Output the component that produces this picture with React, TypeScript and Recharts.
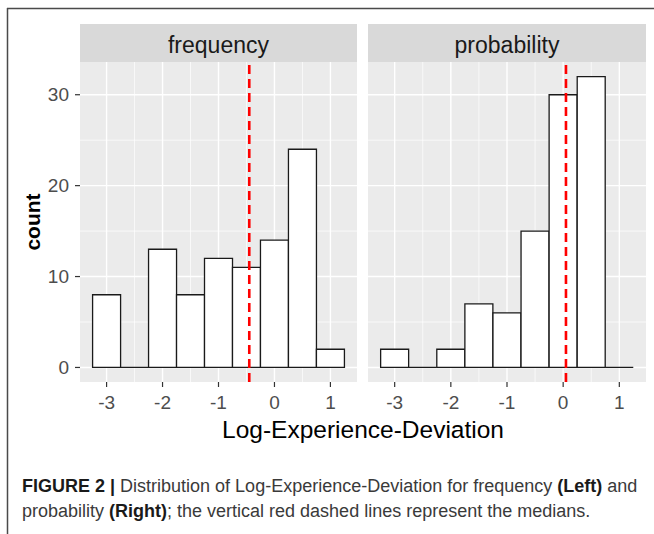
import { Bar, CartesianGrid, ComposedChart, ReferenceLine, XAxis, YAxis } from "recharts";

// histogram bins (centres, width 0.5) and counts per facet
const bins = [-3, -2.5, -2, -1.5, -1, -0.5, 0, 0.5, 1];
const frequencyCounts = [8, 0, 13, 8, 12, 11, 14, 24, 2];
const probabilityCounts = [2, 0, 2, 7, 6, 15, 30, 32, 0];
const frequencyMedian = -0.45;
const probabilityMedian = 0.05;

const xTicks = [-3, -2, -1, 0, 1];
const xMinor = [-2.5, -1.5, -0.5, 0.5];
const yTicks = [0, 10, 20, 30];
const yMinor = [5, 15, 25];

const BIN_W = 0.5;
const FONT = "'Liberation Sans', Arial, sans-serif";

// ggplot-style 5% expansion of the data range
const xLo = bins[0] - BIN_W / 2;
const xHi = bins[bins.length - 1] + BIN_W / 2;
const xPad = (xHi - xLo) * 0.05;
const xDomain = [xLo - xPad, xHi + xPad];
const yMax = Math.max(...frequencyCounts, ...probabilityCounts);
const yDomain = [-yMax * 0.05, yMax * 1.05];

const PLOT_TOP = 62;
const PLOT_H = 320;
const AXIS_H = 40;

function HistBar(props: any) {
  const { x, y, width, height } = props;
  return (
    <path
      d={`M${x},${y + height}V${y}H${x + width}V${y + height}Z`}
      fill="#ffffff"
      stroke="#1a1a1a"
      strokeWidth={1.3}
    />
  );
}

function Panel({
  counts,
  median,
  left,
  plotWidth,
  showY,
}: {
  counts: number[];
  median: number;
  left: number;
  plotWidth: number;
  showY: boolean;
}) {
  const yAxisW = showY ? 80 : 0;
  const data = bins.map((b, i) => ({ bin: String(b), value: b, count: counts[i] }));
  const catPad = (plotWidth * xPad) / (xDomain[1] - xDomain[0]);
  return (
    <div style={{ position: "absolute", left: left - yAxisW, top: PLOT_TOP }}>
      <ComposedChart
        width={plotWidth + yAxisW}
        height={PLOT_H + AXIS_H}
        data={data}
        margin={{ top: 0, right: 0, bottom: 0, left: 0 }}
        barCategoryGap={0}
        barGap={0}
      >
        <CartesianGrid
          xAxisId="num"
          fill="#ebebeb"
          stroke="#ffffff"
          strokeWidth={0.7}
          horizontalValues={yMinor}
          verticalValues={xMinor}
        />
        <CartesianGrid
          xAxisId="num"
          stroke="#ffffff"
          strokeWidth={1.4}
          horizontalValues={yTicks}
          verticalValues={xTicks}
        />
        <XAxis
          xAxisId="num"
          dataKey="value"
          type="number"
          domain={xDomain}
          ticks={xTicks}
          allowDataOverflow
          height={AXIS_H}
          axisLine={false}
          tickSize={5}
          tickMargin={9}
          tickLine={{ stroke: "#333333", strokeWidth: 1.2 }}
          tick={{ fill: "#4d4d4d", fontSize: 19, fontFamily: FONT }}
        />
        <XAxis
          xAxisId="cat"
          dataKey="bin"
          type="category"
          hide
          height={0}
          padding={{ left: catPad, right: catPad }}
        />
        <YAxis
          type="number"
          domain={yDomain}
          ticks={yTicks}
          allowDataOverflow
          hide={!showY}
          width={yAxisW}
          axisLine={false}
          tickSize={5}
          tickMargin={6}
          tickLine={{ stroke: "#333333", strokeWidth: 1.2 }}
          tick={{ fill: "#4d4d4d", fontSize: 19, fontFamily: FONT }}
        />
        <Bar xAxisId="cat" dataKey="count" shape={HistBar} isAnimationActive={false} />
        <ReferenceLine
          xAxisId="num"
          x={median}
          stroke="#ff0000"
          strokeWidth={2.6}
          strokeDasharray="9 5"
        />
      </ComposedChart>
    </div>
  );
}

export default function App() {
  const leftX = 80;
  const leftW = 277;
  const rightX = 368;
  const rightW = 278;
  return (
    <div
      style={{
        position: "fixed",
        left: 0,
        top: 0,
        width: 654,
        height: 534,
        background: "#ffffff",
        overflow: "hidden",
      }}
    >
      <svg width={654} height={534} style={{ position: "absolute", left: 0, top: 0 }}>
        <line x1={7} y1={8.5} x2={654} y2={8.5} stroke="#4a4a4a" strokeWidth={1.5} />
        <line x1={7.5} y1={8} x2={7.5} y2={534} stroke="#4a4a4a" strokeWidth={1.5} />
        <rect x={leftX} y={24} width={leftW} height={PLOT_TOP - 24} fill="#d9d9d9" />
        <rect x={rightX} y={24} width={rightW} height={PLOT_TOP - 24} fill="#d9d9d9" />
        <text
          x={leftX + leftW / 2}
          y={53}
          textAnchor="middle"
          fontFamily={FONT}
          fontSize={23}
          fill="#1a1a1a"
        >
          frequency
        </text>
        <text
          x={rightX + rightW / 2}
          y={53}
          textAnchor="middle"
          fontFamily={FONT}
          fontSize={23}
          fill="#1a1a1a"
        >
          probability
        </text>
        <text
          transform={`translate(40, ${PLOT_TOP + PLOT_H / 2}) rotate(-90)`}
          textAnchor="middle"
          fontFamily={FONT}
          fontSize={21}
          fontWeight="bold"
          fill="#000000"
        >
          count
        </text>
        <text x={363} y={438} textAnchor="middle" fontFamily={FONT} fontSize={24.5} fill="#000000">
          Log-Experience-Deviation
        </text>
        <text x={22} y={492} fontFamily={FONT} fontSize={18} fill="#3a3a3a">
          <tspan fontWeight="bold" fill="#1a1a1a">
            FIGURE 2 |
          </tspan>
          <tspan> Distribution of Log-Experience-Deviation for frequency </tspan>
          <tspan fontWeight="bold" fill="#1a1a1a">
            (Left)
          </tspan>
          <tspan> and</tspan>
        </text>
        <text x={22} y={517} fontFamily={FONT} fontSize={18} fill="#3a3a3a">
          <tspan>probability </tspan>
          <tspan fontWeight="bold" fill="#1a1a1a">
            (Right)
          </tspan>
          <tspan>; the vertical red dashed lines represent the medians.</tspan>
        </text>
      </svg>
      <Panel counts={frequencyCounts} median={frequencyMedian} left={leftX} plotWidth={leftW} showY />
      <Panel counts={probabilityCounts} median={probabilityMedian} left={rightX} plotWidth={rightW} showY={false} />
    </div>
  );
}
